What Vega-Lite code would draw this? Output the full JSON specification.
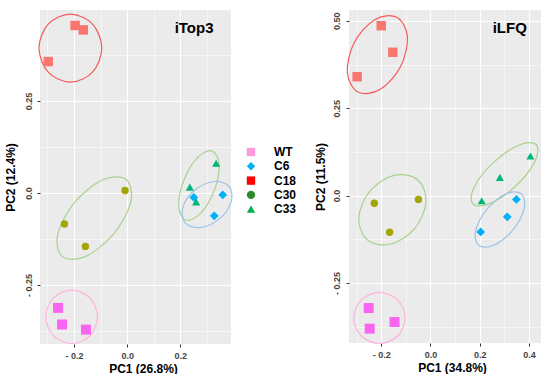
{
  "$schema": "https://vega.github.io/schema/vega-lite/v6.json",
  "padding": {"left": 4, "top": 10, "right": 0, "bottom": 0},
  "background": "white",
  "spacing": 17,
  "config": {
    "font": "Liberation Sans",
    "view": {"fill": "#EBEBEB", "stroke": null},
    "axis": {
      "domain": false, "grid": true, "gridColor": "#FFFFFF", "tickColor": "#333333", "tickSize": 3, "tickWidth": 1,
      "labelFont": "Liberation Sans", "labelFontSize": 9, "labelFontWeight": "bold", "labelColor": "#444444",
      "titleFont": "Liberation Sans", "titleFontSize": 12, "titleFontWeight": "bold", "titleColor": "#000000",
      "labelOverlap": false, "labelFlush": false
    }
  },
  "datasets": {
    "pts": [
      {"panel": "iTop3", "group": "C18", "pc1": -0.196, "pc2": 0.455},
      {"panel": "iTop3", "group": "C18", "pc1": -0.165, "pc2": 0.443},
      {"panel": "iTop3", "group": "C18", "pc1": -0.297, "pc2": 0.357},
      {"panel": "iTop3", "group": "C30", "pc1": -0.008, "pc2": 0.007},
      {"panel": "iTop3", "group": "C30", "pc1": -0.236, "pc2": -0.084},
      {"panel": "iTop3", "group": "C30", "pc1": -0.157, "pc2": -0.145},
      {"panel": "iTop3", "group": "C33", "pc1": 0.335, "pc2": 0.081},
      {"panel": "iTop3", "group": "C33", "pc1": 0.236, "pc2": 0.016},
      {"panel": "iTop3", "group": "C33", "pc1": 0.260, "pc2": -0.024},
      {"panel": "iTop3", "group": "C6", "pc1": 0.251, "pc2": -0.012},
      {"panel": "iTop3", "group": "C6", "pc1": 0.360, "pc2": -0.005},
      {"panel": "iTop3", "group": "C6", "pc1": 0.328, "pc2": -0.062},
      {"panel": "iTop3", "group": "WT", "pc1": -0.260, "pc2": -0.312},
      {"panel": "iTop3", "group": "WT", "pc1": -0.245, "pc2": -0.357},
      {"panel": "iTop3", "group": "WT", "pc1": -0.155, "pc2": -0.371},
      {"panel": "iLFQ", "group": "C18", "pc1": -0.200, "pc2": 0.486},
      {"panel": "iLFQ", "group": "C18", "pc1": -0.153, "pc2": 0.410},
      {"panel": "iLFQ", "group": "C18", "pc1": -0.298, "pc2": 0.340},
      {"panel": "iLFQ", "group": "C30", "pc1": -0.228, "pc2": -0.022},
      {"panel": "iLFQ", "group": "C30", "pc1": -0.049, "pc2": -0.011},
      {"panel": "iLFQ", "group": "C30", "pc1": -0.166, "pc2": -0.105},
      {"panel": "iLFQ", "group": "C33", "pc1": 0.208, "pc2": -0.015},
      {"panel": "iLFQ", "group": "C33", "pc1": 0.282, "pc2": 0.052},
      {"panel": "iLFQ", "group": "C33", "pc1": 0.406, "pc2": 0.113},
      {"panel": "iLFQ", "group": "C6", "pc1": 0.204, "pc2": -0.104},
      {"panel": "iLFQ", "group": "C6", "pc1": 0.312, "pc2": -0.061},
      {"panel": "iLFQ", "group": "C6", "pc1": 0.349, "pc2": -0.011},
      {"panel": "iLFQ", "group": "WT", "pc1": -0.251, "pc2": -0.322},
      {"panel": "iLFQ", "group": "WT", "pc1": -0.247, "pc2": -0.381},
      {"panel": "iLFQ", "group": "WT", "pc1": -0.146, "pc2": -0.362}
    ],
    "ell": [
      {"panel": "iTop3", "group": "C18", "i": 0, "pc1": -0.0955, "pc2": 0.3935},
      {"panel": "iTop3", "group": "C18", "i": 1, "pc1": -0.1302, "pc2": 0.3283},
      {"panel": "iTop3", "group": "C18", "i": 2, "pc1": -0.2136, "pc2": 0.3011},
      {"panel": "iTop3", "group": "C18", "i": 3, "pc1": -0.2970, "pc2": 0.3283},
      {"panel": "iTop3", "group": "C18", "i": 4, "pc1": -0.3317, "pc2": 0.3935},
      {"panel": "iTop3", "group": "C18", "i": 5, "pc1": -0.2970, "pc2": 0.4587},
      {"panel": "iTop3", "group": "C18", "i": 6, "pc1": -0.2136, "pc2": 0.4859},
      {"panel": "iTop3", "group": "C18", "i": 7, "pc1": -0.1302, "pc2": 0.4587},
      {"panel": "iTop3", "group": "C30", "i": 0, "pc1": -0.0026, "pc2": 0.0361},
      {"panel": "iTop3", "group": "C30", "i": 1, "pc1": 0.0132, "pc2": -0.0253},
      {"panel": "iTop3", "group": "C30", "i": 2, "pc1": -0.0513, "pc2": -0.1117},
      {"panel": "iTop3", "group": "C30", "i": 3, "pc1": -0.1581, "pc2": -0.1726},
      {"panel": "iTop3", "group": "C30", "i": 4, "pc1": -0.2449, "pc2": -0.1720},
      {"panel": "iTop3", "group": "C30", "i": 5, "pc1": -0.2608, "pc2": -0.1106},
      {"panel": "iTop3", "group": "C30", "i": 6, "pc1": -0.1962, "pc2": -0.0242},
      {"panel": "iTop3", "group": "C30", "i": 7, "pc1": -0.0894, "pc2": 0.0367},
      {"panel": "iTop3", "group": "C33", "i": 0, "pc1": 0.3215, "pc2": 0.1139},
      {"panel": "iTop3", "group": "C33", "i": 1, "pc1": 0.3464, "pc2": 0.0753},
      {"panel": "iTop3", "group": "C33", "i": 2, "pc1": 0.3268, "pc2": 0.0046},
      {"panel": "iTop3", "group": "C33", "i": 3, "pc1": 0.2743, "pc2": -0.0568},
      {"panel": "iTop3", "group": "C33", "i": 4, "pc1": 0.2196, "pc2": -0.0731},
      {"panel": "iTop3", "group": "C33", "i": 5, "pc1": 0.1947, "pc2": -0.0345},
      {"panel": "iTop3", "group": "C33", "i": 6, "pc1": 0.2143, "pc2": 0.0361},
      {"panel": "iTop3", "group": "C33", "i": 7, "pc1": 0.2668, "pc2": 0.0976},
      {"panel": "iTop3", "group": "C6", "i": 0, "pc1": 0.3838, "pc2": 0.0177},
      {"panel": "iTop3", "group": "C6", "i": 1, "pc1": 0.3913, "pc2": -0.0247},
      {"panel": "iTop3", "group": "C6", "i": 2, "pc1": 0.3460, "pc2": -0.0709},
      {"panel": "iTop3", "group": "C6", "i": 3, "pc1": 0.2740, "pc2": -0.0938},
      {"panel": "iTop3", "group": "C6", "i": 4, "pc1": 0.2177, "pc2": -0.0802},
      {"panel": "iTop3", "group": "C6", "i": 5, "pc1": 0.2102, "pc2": -0.0378},
      {"panel": "iTop3", "group": "C6", "i": 6, "pc1": 0.2555, "pc2": 0.0084},
      {"panel": "iTop3", "group": "C6", "i": 7, "pc1": 0.3275, "pc2": 0.0313},
      {"panel": "iTop3", "group": "WT", "i": 0, "pc1": -0.1117, "pc2": -0.3361},
      {"panel": "iTop3", "group": "WT", "i": 1, "pc1": -0.1400, "pc2": -0.3875},
      {"panel": "iTop3", "group": "WT", "i": 2, "pc1": -0.2087, "pc2": -0.4087},
      {"panel": "iTop3", "group": "WT", "i": 3, "pc1": -0.2774, "pc2": -0.3875},
      {"panel": "iTop3", "group": "WT", "i": 4, "pc1": -0.3057, "pc2": -0.3361},
      {"panel": "iTop3", "group": "WT", "i": 5, "pc1": -0.2774, "pc2": -0.2848},
      {"panel": "iTop3", "group": "WT", "i": 6, "pc1": -0.2087, "pc2": -0.2636},
      {"panel": "iTop3", "group": "WT", "i": 7, "pc1": -0.1400, "pc2": -0.2848},
      {"panel": "iLFQ", "group": "C18", "i": 0, "pc1": -0.1372, "pc2": 0.5100},
      {"panel": "iLFQ", "group": "C18", "i": 1, "pc1": -0.0939, "pc2": 0.4542},
      {"panel": "iLFQ", "group": "C18", "i": 2, "pc1": -0.1219, "pc2": 0.3685},
      {"panel": "iLFQ", "group": "C18", "i": 3, "pc1": -0.2049, "pc2": 0.3032},
      {"panel": "iLFQ", "group": "C18", "i": 4, "pc1": -0.2943, "pc2": 0.2963},
      {"panel": "iLFQ", "group": "C18", "i": 5, "pc1": -0.3377, "pc2": 0.3521},
      {"panel": "iLFQ", "group": "C18", "i": 6, "pc1": -0.3097, "pc2": 0.4378},
      {"panel": "iLFQ", "group": "C18", "i": 7, "pc1": -0.2267, "pc2": 0.5032},
      {"panel": "iLFQ", "group": "C30", "i": 0, "pc1": -0.0514, "pc2": 0.0447},
      {"panel": "iLFQ", "group": "C30", "i": 1, "pc1": -0.0182, "pc2": -0.0189},
      {"panel": "iLFQ", "group": "C30", "i": 2, "pc1": -0.0648, "pc2": -0.0951},
      {"panel": "iLFQ", "group": "C30", "i": 3, "pc1": -0.1640, "pc2": -0.1395},
      {"panel": "iLFQ", "group": "C30", "i": 4, "pc1": -0.2579, "pc2": -0.1261},
      {"panel": "iLFQ", "group": "C30", "i": 5, "pc1": -0.2911, "pc2": -0.0625},
      {"panel": "iLFQ", "group": "C30", "i": 6, "pc1": -0.2445, "pc2": 0.0138},
      {"panel": "iLFQ", "group": "C30", "i": 7, "pc1": -0.1453, "pc2": 0.0582},
      {"panel": "iLFQ", "group": "C33", "i": 0, "pc1": 0.4300, "pc2": 0.1453},
      {"panel": "iLFQ", "group": "C33", "i": 1, "pc1": 0.4235, "pc2": 0.0963},
      {"panel": "iLFQ", "group": "C33", "i": 2, "pc1": 0.3453, "pc2": 0.0266},
      {"panel": "iLFQ", "group": "C33", "i": 3, "pc1": 0.2409, "pc2": -0.0232},
      {"panel": "iLFQ", "group": "C33", "i": 4, "pc1": 0.1717, "pc2": -0.0238},
      {"panel": "iLFQ", "group": "C33", "i": 5, "pc1": 0.1781, "pc2": 0.0252},
      {"panel": "iLFQ", "group": "C33", "i": 6, "pc1": 0.2563, "pc2": 0.0948},
      {"panel": "iLFQ", "group": "C33", "i": 7, "pc1": 0.3607, "pc2": 0.1447},
      {"panel": "iLFQ", "group": "C6", "i": 0, "pc1": 0.3692, "pc2": 0.0049},
      {"panel": "iLFQ", "group": "C6", "i": 1, "pc1": 0.3802, "pc2": -0.0384},
      {"panel": "iLFQ", "group": "C6", "i": 2, "pc1": 0.3336, "pc2": -0.0994},
      {"panel": "iLFQ", "group": "C6", "i": 3, "pc1": 0.2571, "pc2": -0.1424},
      {"panel": "iLFQ", "group": "C6", "i": 4, "pc1": 0.1951, "pc2": -0.1424},
      {"panel": "iLFQ", "group": "C6", "i": 5, "pc1": 0.1842, "pc2": -0.0991},
      {"panel": "iLFQ", "group": "C6", "i": 6, "pc1": 0.2308, "pc2": -0.0381},
      {"panel": "iLFQ", "group": "C6", "i": 7, "pc1": 0.3073, "pc2": 0.0049},
      {"panel": "iLFQ", "group": "WT", "i": 0, "pc1": -0.1028, "pc2": -0.3504},
      {"panel": "iLFQ", "group": "WT", "i": 1, "pc1": -0.1336, "pc2": -0.4020},
      {"panel": "iLFQ", "group": "WT", "i": 2, "pc1": -0.2073, "pc2": -0.4235},
      {"panel": "iLFQ", "group": "WT", "i": 3, "pc1": -0.2810, "pc2": -0.4020},
      {"panel": "iLFQ", "group": "WT", "i": 4, "pc1": -0.3117, "pc2": -0.3504},
      {"panel": "iLFQ", "group": "WT", "i": 5, "pc1": -0.2810, "pc2": -0.2989},
      {"panel": "iLFQ", "group": "WT", "i": 6, "pc1": -0.2073, "pc2": -0.2774},
      {"panel": "iLFQ", "group": "WT", "i": 7, "pc1": -0.1336, "pc2": -0.2989}
    ],
    "lab": [
      {"panel": "iTop3", "pc1": 0.252, "pc2": 0.448, "label": "iTop3"},
      {"panel": "iLFQ", "pc1": 0.322, "pc2": 0.480, "label": "iLFQ"}
    ]
  },
  "hconcat": [
    {
      "width": 191,
      "height": 334,
      "encoding": {
        "x": {
          "field": "pc1", "type": "quantitative",
          "scale": {"domain": [-0.328, 0.391], "nice": false, "zero": false},
          "axis": {
            "title": "PC1 (26.8%)", "values": [-0.3, -0.2, -0.1, 0, 0.1, 0.2, 0.3],
            "labelPadding": 4, "titlePadding": 3, "titleX": 103,
            "labelExpr": "abs(round(datum.value*10)) % 2 == 1 ? '' : (datum.value < 0 ? '- ' + format(-datum.value, '.1f') : format(datum.value, '.1f'))",
            "gridWidth": {"condition": {"test": "abs(round(datum.value*10)) % 2 == 1", "value": 0.5}, "value": 1.1},
            "tickOpacity": {"condition": {"test": "abs(round(datum.value*10)) % 2 == 1", "value": 0}, "value": 1}
          }
        },
        "y": {
          "field": "pc2", "type": "quantitative",
          "scale": {"domain": [-0.41, 0.497], "nice": false, "zero": false},
          "axis": {
            "title": "PC2 (12.4%)", "values": [-0.375, -0.25, -0.125, 0, 0.125, 0.25, 0.375],
            "labelAngle": 270, "labelAlign": "center", "labelBaseline": "bottom",
            "labelPadding": 3.8, "titlePadding": 6.5,
            "labelExpr": "abs(round(datum.value*8)) % 2 == 1 ? '' : (datum.value == 0 ? '0.0' : (datum.value < 0 ? '- ' + format(-datum.value, '.2f') : format(datum.value, '.2f')))",
            "gridWidth": {"condition": {"test": "abs(round(datum.value*8)) % 2 == 1", "value": 0.5}, "value": 1.1},
            "tickOpacity": {"condition": {"test": "abs(round(datum.value*8)) % 2 == 1", "value": 0}, "value": 1}
          }
        }
      },
      "layer": [
        {
          "data": {"name": "ell"},
          "transform": [{"filter": "datum.panel == 'iTop3'"}],
          "mark": {"type": "line", "interpolate": "cardinal-closed", "strokeWidth": 1.2},
          "encoding": {
            "order": {"field": "i", "type": "quantitative"},
            "stroke": {"field": "group", "type": "nominal", "legend": null,
              "scale": {"domain": ["C18", "C30", "C33", "C6", "WT"], "range": ["#F55A5A", "#A9D18E", "#A9D18E", "#9DC3E6", "#FFB3DE"]}}
          }
        },
        {
          "data": {"name": "pts"},
          "transform": [{"filter": "datum.panel == 'iTop3'"}],
          "mark": {"type": "point", "filled": true, "opacity": 1, "size": 14},
          "encoding": {
            "shape": {"field": "group", "type": "nominal", "title": null,
              "scale": {"domain": ["WT", "C6", "C18", "C30", "C33"], "range": ["square", "diamond", "square", "circle", "triangle-up"]}},
            "color": {"field": "group", "type": "nominal", "title": null,
              "scale": {"domain": ["WT", "C6", "C18", "C30", "C33"], "range": ["#FF99DD", "#00B0F0", "#FF0000", "#338A2E", "#00B050"]},
              "legend": {"orient": "none", "legendX": 205, "legendY": 136, "padding": 0,
                "labelFont": "Liberation Sans", "labelFontSize": 12, "labelFontWeight": "bold", "labelColor": "#000000",
                "symbolSize": 70, "symbolStrokeWidth": 0, "labelOffset": 17, "rowPadding": 2.3}}
          }
        },
        {
          "data": {"name": "pts"},
          "transform": [{"filter": "datum.panel == 'iTop3'"}],
          "mark": {"type": "point", "filled": true, "opacity": 1, "strokeWidth": 0},
          "encoding": {
            "shape": {"field": "group", "type": "nominal", "title": null,
              "scale": {"domain": ["WT", "C6", "C18", "C30", "C33"], "range": ["square", "diamond", "square", "circle", "triangle-up"]}},
            "fill": {"field": "group", "type": "nominal", "legend": null,
              "scale": {"domain": ["C18", "C30", "C33", "C6", "WT"], "range": ["#F8766D", "#A3A500", "#00B779", "#00B0F6", "#F964F0"]}},
            "size": {"field": "group", "type": "ordinal", "legend": null,
              "scale": {"domain": ["C30", "C33", "C6", "C18", "WT"], "range": [55, 100, 50, 55, 55]}}
          }
        },
        {
          "data": {"name": "lab"},
          "transform": [{"filter": "datum.panel == 'iTop3'"}],
          "mark": {"type": "text", "font": "Liberation Sans", "fontSize": 15, "fontWeight": "bold", "color": "#000000"},
          "encoding": {"text": {"field": "label", "type": "nominal"}}
        }
      ]
    },
    {
      "width": 192,
      "height": 333,
      "encoding": {
        "x": {
          "field": "pc1", "type": "quantitative",
          "scale": {"domain": [-0.331, 0.449], "nice": false, "zero": false},
          "axis": {
            "title": "PC1 (34.8%)", "values": [-0.3, -0.2, -0.1, 0, 0.1, 0.2, 0.3, 0.4],
            "labelPadding": 4, "titlePadding": 3, "titleX": 103,
            "labelExpr": "abs(round(datum.value*10)) % 2 == 1 ? '' : (datum.value < 0 ? '- ' + format(-datum.value, '.1f') : format(datum.value, '.1f'))",
            "gridWidth": {"condition": {"test": "abs(round(datum.value*10)) % 2 == 1", "value": 0.5}, "value": 1.1},
            "tickOpacity": {"condition": {"test": "abs(round(datum.value*10)) % 2 == 1", "value": 0}, "value": 1}
          }
        },
        "y": {
          "field": "pc2", "type": "quantitative",
          "scale": {"domain": [-0.422, 0.531], "nice": false, "zero": false},
          "axis": {
            "title": "PC2 (11.5%)", "values": [-0.375, -0.25, -0.125, 0, 0.125, 0.25, 0.375, 0.5],
            "labelAngle": 270, "labelAlign": "center", "labelBaseline": "bottom",
            "labelPadding": 4.5, "titlePadding": 5,
            "labelExpr": "abs(round(datum.value*8)) % 2 == 1 ? '' : (datum.value == 0 ? '0.0' : (datum.value < 0 ? '- ' + format(-datum.value, '.2f') : format(datum.value, '.2f')))",
            "gridWidth": {"condition": {"test": "abs(round(datum.value*8)) % 2 == 1", "value": 0.5}, "value": 1.1},
            "tickOpacity": {"condition": {"test": "abs(round(datum.value*8)) % 2 == 1", "value": 0}, "value": 1}
          }
        }
      },
      "layer": [
        {
          "data": {"name": "ell"},
          "transform": [{"filter": "datum.panel == 'iLFQ'"}],
          "mark": {"type": "line", "interpolate": "cardinal-closed", "strokeWidth": 1.2},
          "encoding": {
            "order": {"field": "i", "type": "quantitative"},
            "stroke": {"field": "group", "type": "nominal", "legend": null,
              "scale": {"domain": ["C18", "C30", "C33", "C6", "WT"], "range": ["#F55A5A", "#A9D18E", "#A9D18E", "#9DC3E6", "#FFB3DE"]}}
          }
        },
        {
          "data": {"name": "pts"},
          "transform": [{"filter": "datum.panel == 'iLFQ'"}],
          "mark": {"type": "point", "filled": true, "opacity": 1, "strokeWidth": 0},
          "encoding": {
            "shape": {"field": "group", "type": "nominal", "legend": null,
              "scale": {"domain": ["WT", "C6", "C18", "C30", "C33"], "range": ["square", "diamond", "square", "circle", "triangle-up"]}},
            "fill": {"field": "group", "type": "nominal", "legend": null,
              "scale": {"domain": ["C18", "C30", "C33", "C6", "WT"], "range": ["#F8766D", "#A3A500", "#00B779", "#00B0F6", "#F964F0"]}},
            "size": {"field": "group", "type": "ordinal", "legend": null,
              "scale": {"domain": ["C30", "C33", "C6", "C18", "WT"], "range": [55, 100, 50, 55, 55]}}
          }
        },
        {
          "data": {"name": "lab"},
          "transform": [{"filter": "datum.panel == 'iLFQ'"}],
          "mark": {"type": "text", "font": "Liberation Sans", "fontSize": 15, "fontWeight": "bold", "color": "#000000"},
          "encoding": {"text": {"field": "label", "type": "nominal"}}
        }
      ]
    }
  ],
  "resolve": {
    "scale": {"x": "independent", "y": "independent", "color": "independent", "fill": "independent", "shape": "independent", "stroke": "independent", "size": "independent"},
    "legend": {"color": "independent", "fill": "independent", "shape": "independent", "stroke": "independent", "size": "independent"}
  }
}
